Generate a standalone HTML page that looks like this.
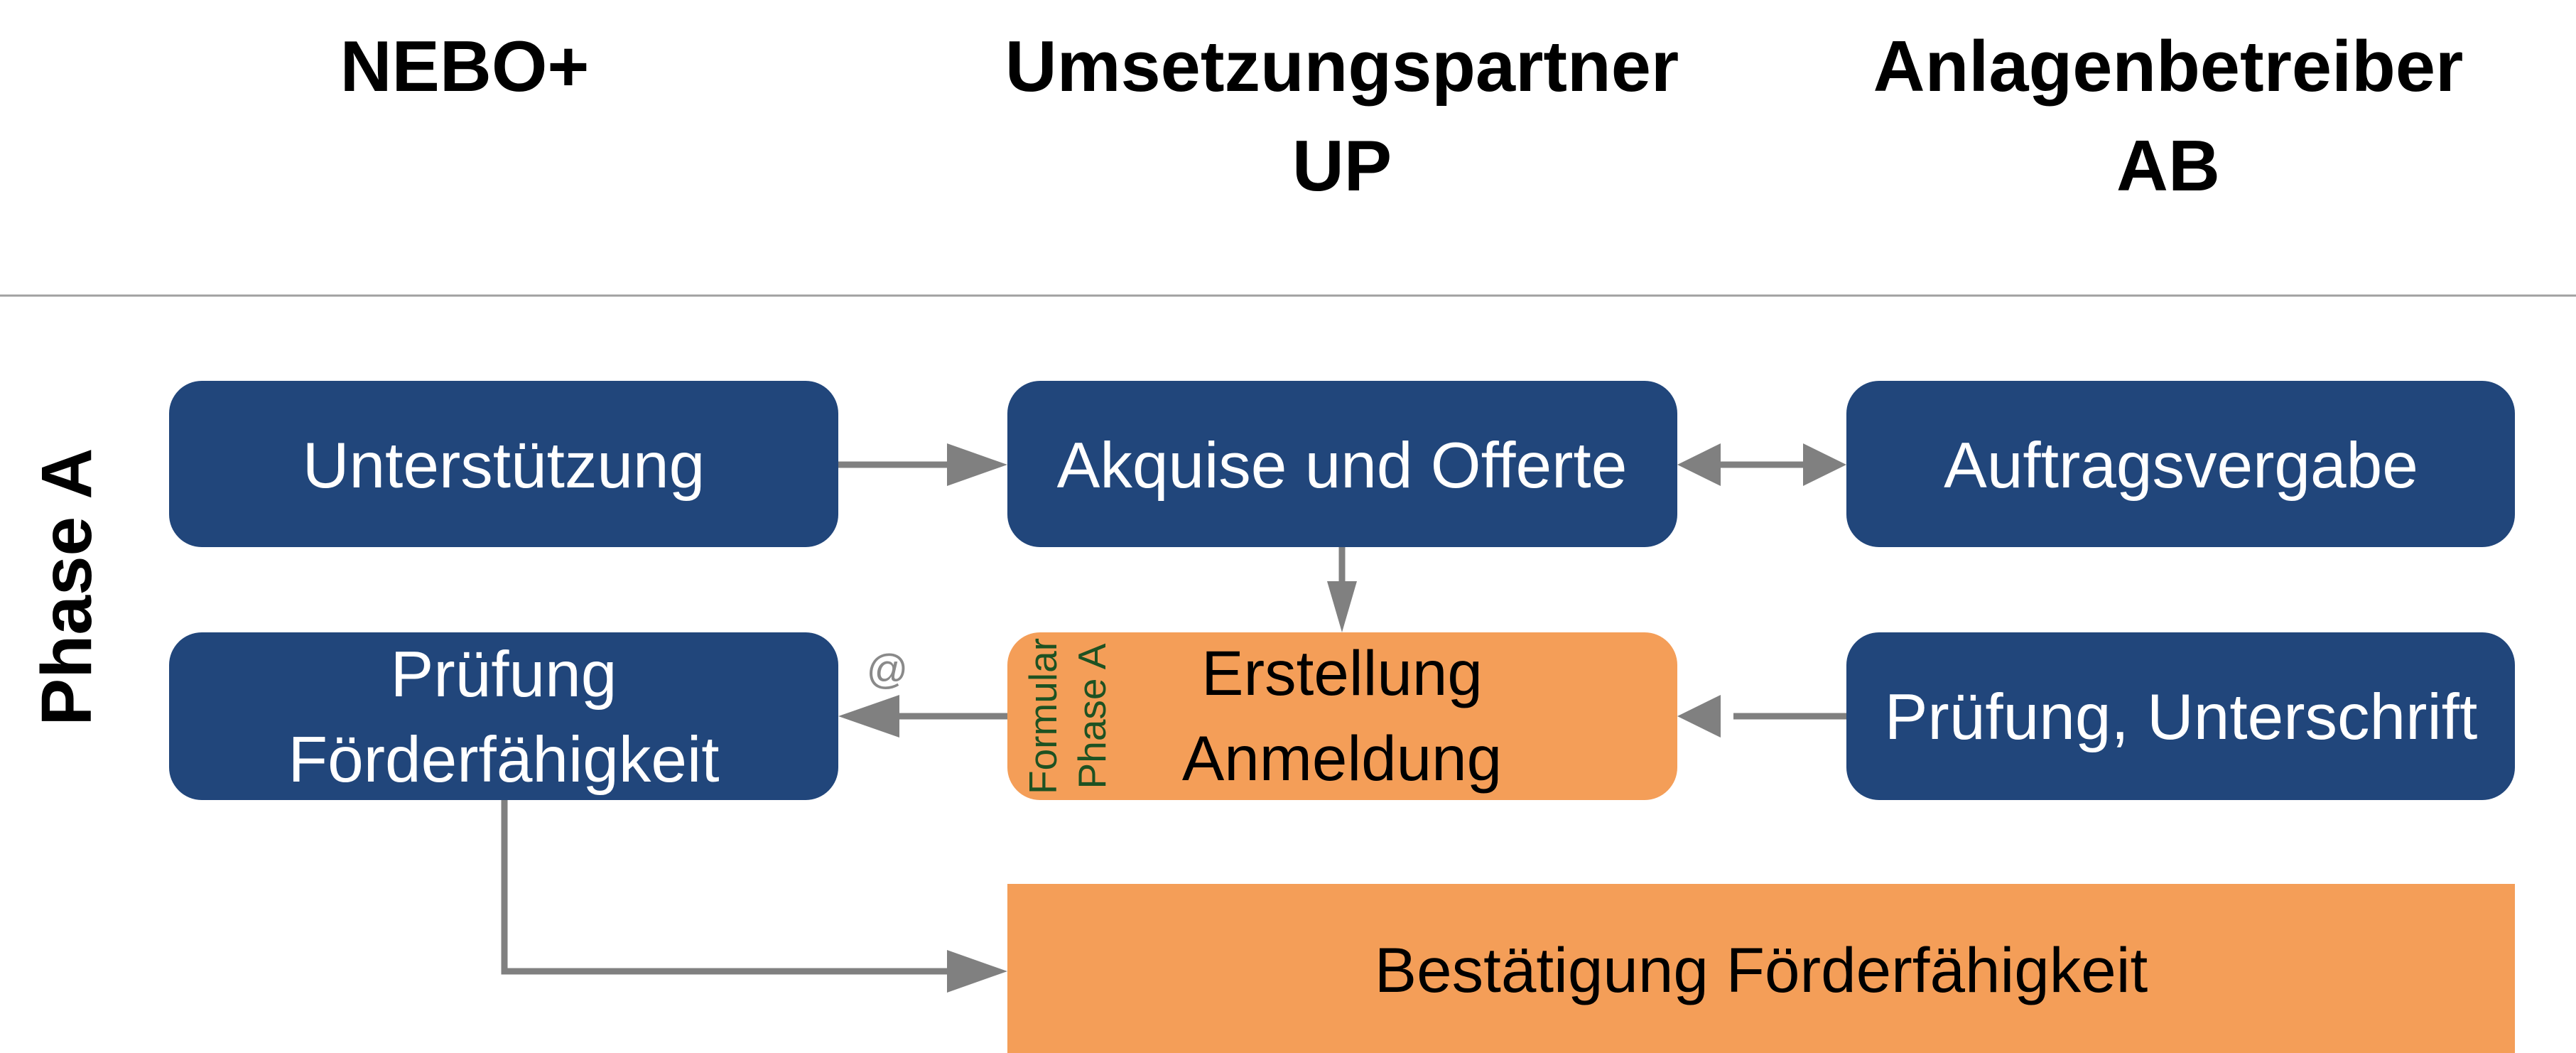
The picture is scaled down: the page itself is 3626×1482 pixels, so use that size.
<!DOCTYPE html>
<html><head><meta charset="utf-8"><style>
html,body{margin:0;padding:0;background:#fff;}
svg{display:block;}
text{font-family:"Liberation Sans",sans-serif;}
</style></head><body>
<svg width="3626" height="1482" viewBox="0 0 3626 1482" xmlns="http://www.w3.org/2000/svg">
<line x1="0" y1="416" x2="3626" y2="416" stroke="#a0a0a0" stroke-width="3"/>
<g font-weight="bold" font-size="101" text-anchor="middle" fill="#000">
<text x="654" y="128">NEBO+</text>
<text x="1889" y="128">Umsetzungspartner</text>
<text x="1889" y="268">UP</text>
<text x="3052" y="128">Anlagenbetreiber</text>
<text x="3052" y="268">AB</text>
<text transform="translate(128,826) rotate(-90)" x="0" y="0" font-size="100">Phase A</text>
</g>
<g fill="#21467b">
<rect x="238" y="536" width="942" height="234" rx="46"/>
<rect x="1418" y="536" width="943" height="234" rx="46"/>
<rect x="2599" y="536" width="941" height="234" rx="46"/>
<rect x="238" y="890" width="942" height="236" rx="46"/>
<rect x="2599" y="890" width="941" height="236" rx="46"/>
</g>
<rect x="1418" y="890" width="943" height="236" rx="46" fill="#f49e58"/>
<rect x="1418" y="1244" width="2122" height="238" fill="#f49e58"/>
<g font-size="91" text-anchor="middle" fill="#fff">
<text x="709" y="686">Unterstützung</text>
<text x="1889" y="686">Akquise und Offerte</text>
<text x="3070" y="686">Auftragsvergabe</text>
<text x="709" y="980">Prüfung</text>
<text x="709" y="1100">Förderfähigkeit</text>
<text x="3070" y="1040">Prüfung, Unterschrift</text>
</g>
<g font-size="89" text-anchor="middle" fill="#000">
<text x="1889" y="978">Erstellung</text>
<text x="1889" y="1098">Anmeldung</text>
<text x="2479" y="1396">Bestätigung Förderfähigkeit</text>
</g>
<g font-size="55" fill="#1e5222" text-anchor="middle">
<text transform="translate(1487,1008) rotate(-90)">Formular</text>
<text transform="translate(1556,1008) rotate(-90)">Phase A</text>
</g>
<text x="1249" y="962" font-size="58" fill="#8a8a8a" text-anchor="middle">@</text>
<g stroke="#808080" stroke-width="9" fill="none">
<line x1="1180" y1="654" x2="1340" y2="654"/>
<line x1="2400" y1="654" x2="2560" y2="654"/>
<line x1="1889" y1="770" x2="1889" y2="830"/>
<line x1="2599" y1="1008" x2="2440" y2="1008"/>
<line x1="1418" y1="1008" x2="1260" y2="1008"/>
<polyline points="710,1126 710,1367 1340,1367"/>
</g>
<g fill="#808080">
<polygon points="1418,654 1333,624 1333,684"/>
<polygon points="2361,654 2422,624 2422,684"/>
<polygon points="2599,654 2538,624 2538,684"/>
<polygon points="1889,890 1868,818 1910,818"/>
<polygon points="2361,1008 2422,978 2422,1038"/>
<polygon points="1180,1008 1266,978 1266,1038"/>
<polygon points="1418,1367 1333,1337 1333,1397"/>
</g>
</svg>
</body></html>
